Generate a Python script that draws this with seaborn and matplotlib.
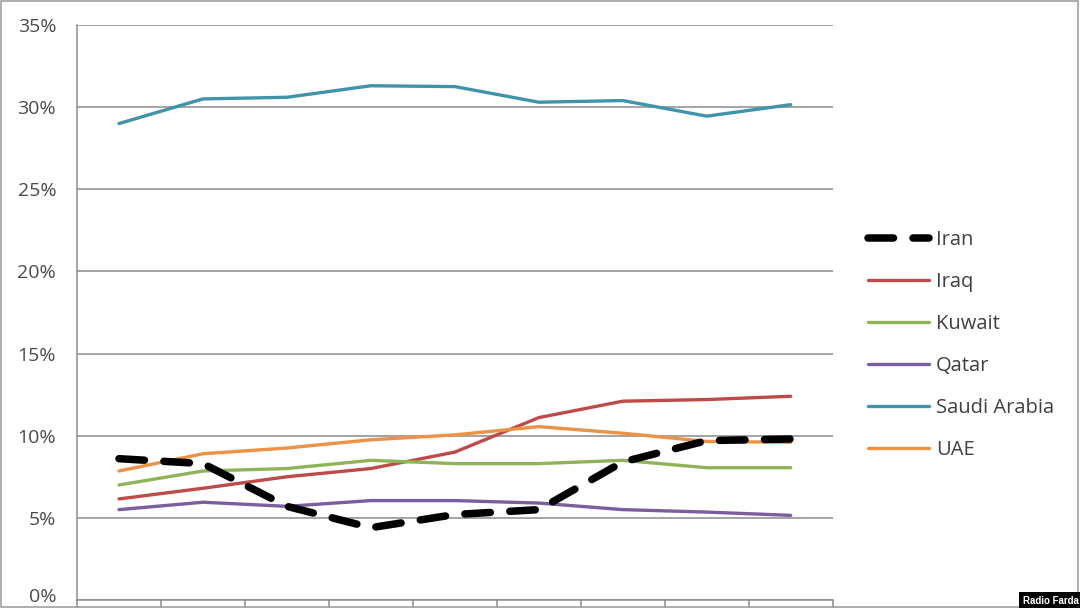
import numpy as np
import pandas as pd
import matplotlib
matplotlib.use('Agg')
import matplotlib.pyplot as plt
import matplotlib.transforms as mtransforms
from matplotlib.patches import Rectangle
import seaborn as sns

# Data (share in %, 9 periods; period labels are cut off in the source)
periods = list(range(9))
iran = [8.6, 8.3, 5.7, 4.4, 5.2, 5.5, 8.4, 9.7, 9.8]
iraq = [6.15, 6.8, 7.5, 8.0, 9.0, 11.1, 12.1, 12.2, 12.4]
kuwait = [7.0, 7.85, 8.0, 8.5, 8.3, 8.3, 8.5, 8.05, 8.05]
qatar = [5.5, 5.95, 5.7, 6.05, 6.05, 5.9, 5.5, 5.35, 5.15]
saudi = [29.0, 30.5, 30.6, 31.3, 31.25, 30.3, 30.4, 29.45, 30.15]
uae = [7.85, 8.9, 9.25, 9.75, 10.05, 10.55, 10.15, 9.65, 9.6]

countries = ['Iran', 'Iraq', 'Kuwait', 'Qatar', 'Saudi Arabia', 'UAE']
series = [iran, iraq, kuwait, qatar, saudi, uae]
colors = ['#000000', '#BE4B48', '#8FB457', '#7A5E9E', '#3F93AA', '#EC9245']

df = pd.DataFrame({
    'period': periods * len(countries),
    'share': np.concatenate(series),
    'country': np.repeat(countries, len(periods)),
})

sns.set_theme(style='white')
plt.rcParams['font.family'] = ['Open Sans', 'DejaVu Sans']

fig = plt.figure(figsize=(10.8, 6.08), dpi=100)
ax = fig.add_axes([0.0713, 0.0132, 0.6997, 0.9457])

grid_c = '#8C8C8C'
for name, col in zip(countries, colors):
    sub = df[df['country'] == name]
    if name == 'Iran':
        sns.lineplot(data=sub, x='period', y='share', ax=ax, color=col,
                     linewidth=5.4, label=name, zorder=5)
        ln = ax.get_lines()[-1]
        ln.set_dashes((3.4, 2.6))
        ln.set_dash_capstyle('round')
    else:
        sns.lineplot(data=sub, x='period', y='share', ax=ax, color=col,
                     linewidth=2.4, label=name, zorder=3)

ax.set_xlim(-0.5, 8.5)
ax.set_ylim(0, 35)
ax.set_yticks(np.arange(0, 36, 5))
ax.set_yticklabels([f'{v}%' for v in range(0, 36, 5)])
ax.set_xticks(np.arange(-0.5, 9, 1))
ax.set_xticklabels([])
ax.set_xlabel('')
ax.set_ylabel('')
ax.yaxis.grid(True, color=grid_c, linewidth=1.1)
ax.xaxis.grid(False)
ax.set_axisbelow(True)
for s in ['top', 'right']:
    ax.spines[s].set_visible(False)
for s in ['left', 'bottom']:
    ax.spines[s].set_color(grid_c)
    ax.spines[s].set_linewidth(1.1)
ax.tick_params(axis='y', direction='out', length=7, width=1.1, color=grid_c,
               labelsize=14, labelcolor='#4A4A4A', pad=8)
ax.tick_params(axis='x', direction='out', length=8, width=1.1, color=grid_c,
               bottom=True)

# nudge the 0% label up a little so it stays inside the image
zero_lbl = ax.get_yticklabels()[0]
zero_lbl.set_transform(zero_lbl.get_transform() +
                       mtransforms.ScaledTranslation(0, 0.05, fig.dpi_scale_trans))

handles, labels = ax.get_legend_handles_labels()
leg = ax.legend(handles, labels, loc='upper left',
                bbox_to_anchor=(0.804, 0.621), bbox_transform=fig.transFigure,
                frameon=False, fontsize=14.5, handlelength=3.0, handletextpad=0.35,
                labelspacing=1.09, borderpad=0, borderaxespad=0)
for t in leg.get_texts():
    t.set_color('#404040')

# thin frame around the image and the source tag
fig.patches.append(Rectangle((0.001, 0.001), 0.997, 0.997, transform=fig.transFigure,
                             fill=False, edgecolor='#A0A0A0', linewidth=1.2))
fig.text(0.9985, 0.004, 'Radio Farda', ha='right', va='bottom', fontsize=7,
         fontweight='bold', color='white', family=['Liberation Sans', 'DejaVu Sans'],
         bbox=dict(boxstyle='square,pad=0.35', facecolor='black', edgecolor='none'))

fig.savefig('out.png', dpi=100)
